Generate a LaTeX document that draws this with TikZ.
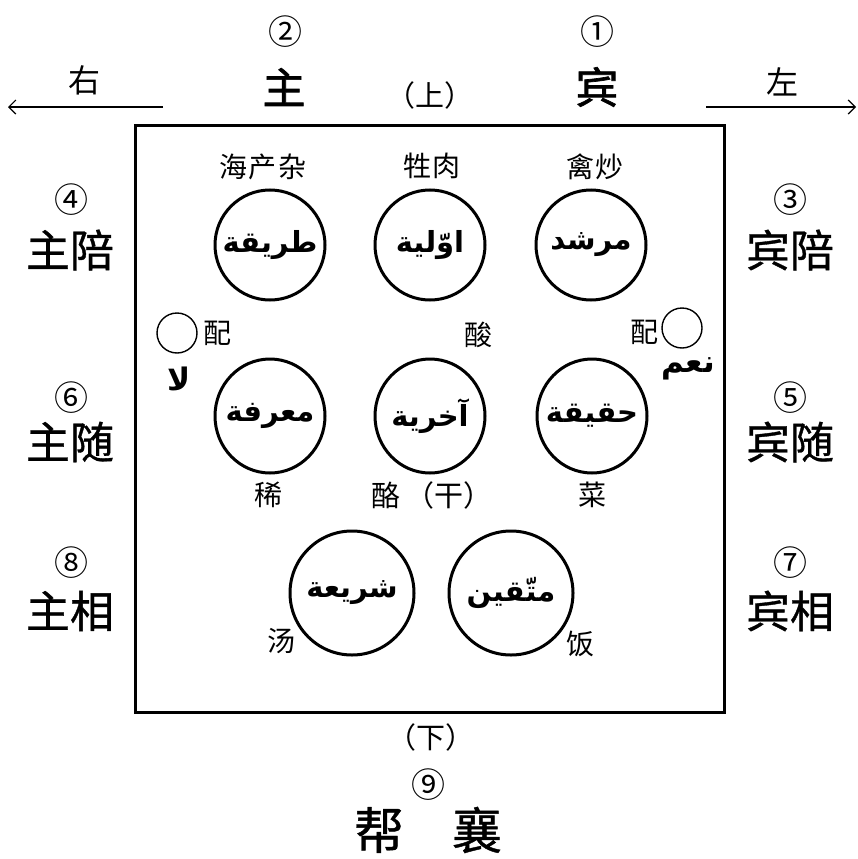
\documentclass[tikz,border=0pt]{standalone}
\usepackage{fontspec}
\usetikzlibrary{arrows.meta,shapes.geometric}
\TeXXeTstate=1
\newfontfamily\cjk{Noto Sans CJK SC}
\newfontfamily\cjkmed[FakeBold=0.8]{Noto Sans CJK SC}
\newfontfamily\cjkheavy[FakeBold=1.6]{Noto Sans CJK SC}
\newfontfamily\arabicfont[Script=Arabic]{DejaVu Sans}
\tikzset{
  big/.style={font=\cjkheavy\fontsize{43}{43}\selectfont, inner sep=0pt},
  side/.style={font=\cjkmed\fontsize{44}{44}\selectfont, inner sep=0pt},
  num/.style={font=\cjk\fontsize{34}{34}\selectfont, inner sep=0pt},
  small/.style={font=\cjk\fontsize{28}{28}\selectfont, inner sep=0pt},
  paren/.style={font=\cjk\fontsize{29}{29}\selectfont, inner sep=0pt},
  dirtext/.style={font=\cjk\fontsize{32}{32}\selectfont, inner sep=0pt},
  bottomtext/.style={font=\cjkmed\fontsize{50}{50}\selectfont, inner sep=0pt},
  ar/.style={font=\arabicfont\bfseries\fontsize{29}{29}\selectfont, inner sep=0pt},
  arsmall/.style={font=\arabicfont\bfseries\fontsize{31}{31}\selectfont, inner sep=0pt},
  ring/.style={draw, line width=3pt, circle, minimum size=110pt, inner sep=0pt},
  oval/.style={draw, line width=3pt, ellipse, minimum width=110pt, minimum height=114pt, inner sep=0pt},
  bigring/.style={draw, line width=3pt, circle, minimum size=124pt, inner sep=0pt},
  dot/.style={draw, line width=1.4pt, circle, minimum size=40pt, inner sep=0pt},
  arr/.style={line width=1.2pt, -{Straight Barb[length=7pt,width=14pt,line width=1.2pt]}}
}
\begin{document}
\begin{tikzpicture}[x=1pt,y=-1pt]
\useasboundingbox (0,0) rectangle (858,859);
% board
\node[draw, line width=3pt, minimum width=589pt, minimum height=587pt, inner sep=0pt] (board) at (429.5,418.5) {};
% direction arrows
\coordinate (rs) at (163,107); \coordinate (re) at (8,107);
\coordinate (ls) at (706,107); \coordinate (le) at (856,107);
\draw[arr] (rs) -- (re);
\draw[arr] (ls) -- (le);
\node[dirtext] (you) at (84,80) {右};
\node[dirtext] (zuo) at (782,82) {左};
% top labels
\node[num] (n2) at (285,32) {②};
\node[num] (n1) at (597,32) {①};
\node[big] (zhu) at (284,87) {主};
\node[big] (bin) at (597,87) {宾};
\node[paren] (shang) at (430,95) {（上）};
% side labels
\node[num] (n4) at (71,200) {④};
\node[side] (zhupei) at (70,250) {主陪};
\node[num] (n6) at (71,398) {⑥};
\node[side] (zhusui) at (70,442) {主随};
\node[num] (n8) at (71,563) {⑧};
\node[side] (zhuxiang) at (70,611) {主相};
\node[num] (n3) at (790,200) {③};
\node[side] (binpei) at (790,250) {宾陪};
\node[num] (n5) at (790,398) {⑤};
\node[side] (binsui) at (790,442) {宾随};
\node[num] (n7) at (790,563) {⑦};
\node[side] (binxiang) at (790,611) {宾相};
% dishes top
\node[small] (haichan) at (263,167) {海\kern2pt 产\kern2pt 杂};
\node[small] (shengrou) at (432,166) {牲\kern2pt 肉};
\node[small] (qinchao) at (595,167) {禽\kern2pt 炒};
% top row circles
\node[ring] (c1) at (270,245) {};
\node[ring] (c2) at (430,245) {};
\node[ring] (c3) at (591,245) {};
\node[ar] (t1) at (c1) {\beginR طريقة\endR};
\node[ar] (t2) at (c2) {\beginR اوّلية\endR};
\node[ar] (t3) at (c3) {\beginR مرشد\endR};
% small circles
\node[dot] (dl) at (177,333) {};
\node[small] (peil) at (217,333) {配};
\node[arsmall] (la) at (179,379) {\beginR لا\endR};
\node[small] (suan) at (478,335) {酸};
\node[small] (peir) at (644,332) {配};
\node[dot] (dr) at (682,328) {};
\node[arsmall] (naam) at (688,369) {\beginR نعم\endR};
% middle row
\node[oval] (m1) at (270,416) {};
\node[oval] (m2) at (430,416) {};
\node[oval] (m3) at (592,416) {};
\node[ar] (u1) at (m1) {\beginR معرفة\endR};
\node[ar] (u2) at (m2) {\beginR آخرية\endR};
\node[ar] (u3) at (m3) {\beginR حقيقة\endR};
\node[small] (xi) at (268,495) {稀};
\node[paren] (lao) at (432,495) {酪\kern6pt（干）};
\node[small] (cai) at (592,495) {菜};
% bottom row
\node[bigring] (b1) at (352,593) {};
\node[bigring] (b2) at (511,593) {};
\node[ar] (v1) at (b1) {\beginR شريعة\endR};
\node[ar] (v2) at (b2) {\beginR متّقين\endR};
\node[small] (tang) at (281,641) {汤};
\node[small] (fan) at (580,644) {饭};
% bottom
\node[paren] (xia) at (431,737) {（下）};
\node[num] (n9) at (428,785) {⑨};
\node[bottomtext] (bang) at (379,830) {帮};
\node[bottomtext] (xiang) at (477,830) {襄};
\end{tikzpicture}
\end{document}
